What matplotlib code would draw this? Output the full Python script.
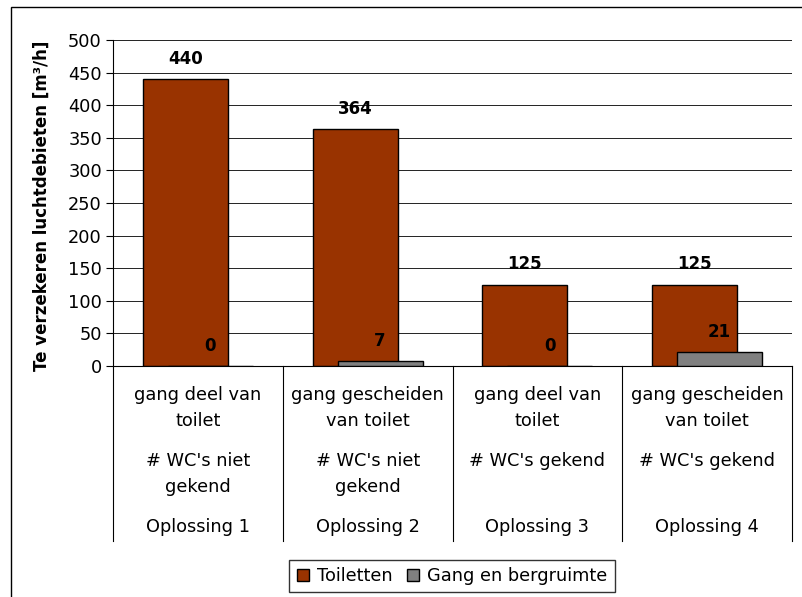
# Luchtdebieten per oplossing - gegroepeerde staafgrafiek
import numpy as np
import matplotlib
matplotlib.use('Agg')
import matplotlib.pyplot as plt
import matplotlib.transforms as mtransforms
from matplotlib.patches import Rectangle, Patch

oplossingen = ['Oplossing 1', 'Oplossing 2', 'Oplossing 3', 'Oplossing 4']
gang = ['gang deel van\ntoilet', 'gang gescheiden\nvan toilet',
        'gang deel van\ntoilet', 'gang gescheiden\nvan toilet']
wcs = ["# WC's niet\ngekend", "# WC's niet\ngekend", "# WC's gekend", "# WC's gekend"]
toiletten = [440, 364, 125, 125]
gang_berg = [0, 7, 0, 21]
series_namen = ['Toiletten', 'Gang en bergruimte']

W, H = 802, 597
fig = plt.figure(figsize=(W / 100, H / 100), dpi=100)
ax = fig.add_axes([113 / W, 1 - 366 / H, (792 - 113) / W, (366 - 40) / H])

x = np.arange(len(oplossingen))
bw = 0.5
off = 0.074
ax.bar(x - off, toiletten, bw, color='#993300', edgecolor='black', linewidth=1, zorder=2)
ax.bar(x + off, gang_berg, bw, color='#808080', edgecolor='black', linewidth=1, zorder=3)

for xi, v in zip(x - off, toiletten):
    ax.annotate(str(v), (xi, v), xytext=(0, 8), textcoords='offset points',
                ha='center', va='bottom', fontsize=12, fontweight='bold')
for xi, v in zip(x + off, gang_berg):
    ax.annotate(str(v), (xi, v), xytext=(0, 8), textcoords='offset points',
                ha='center', va='bottom', fontsize=12, fontweight='bold')

ax.set_xlim(-0.5, 3.5)
ax.set_ylim(0, 500)
ax.set_yticks(range(0, 501, 50))
ax.yaxis.grid(True, color='#222222', linewidth=0.7, zorder=0)
ax.set_axisbelow(True)
ax.tick_params(axis='y', labelsize=12.8, length=5, width=0.8, pad=3)
ax.set_xticks([])
for s in ['top', 'right']:
    ax.spines[s].set_visible(False)
ax.spines['left'].set_linewidth(0.8)
ax.spines['bottom'].set_linewidth(0.8)
ax.set_ylabel('Te verzekeren luchtdebieten [m³/h]', fontsize=12, fontweight='bold')
ax.yaxis.set_label_coords(-0.092, 0.49)

# categorie-as met meerdere niveaus
tr = mtransforms.blended_transform_factory(ax.transData, fig.transFigure)
y_bot = 1 - 541 / H
for b in np.arange(-0.5, 4.0, 1.0):
    ax.plot([b, b], [1 - 366 / H, y_bot], transform=tr, color='black',
            linewidth=0.8, clip_on=False)
for i in x:
    ax.text(i, 1 - 386 / H, gang[i], transform=tr, ha='center', va='top',
            fontsize=12.8, linespacing=1.6)
    ax.text(i, 1 - 452 / H, wcs[i], transform=tr, ha='center', va='top',
            fontsize=12.8, linespacing=1.6)
    ax.text(i, 1 - 527 / H, oplossingen[i], transform=tr, ha='center', va='center',
            fontsize=12.8)

handles = [Patch(facecolor='#993300', edgecolor='black'),
           Patch(facecolor='#808080', edgecolor='black')]
fig.legend(handles, series_namen, loc='upper center', bbox_to_anchor=(452 / W, 1 - 560 / H),
           ncol=2, fontsize=12.8, frameon=True, fancybox=False, edgecolor='black',
           handlelength=0.7, handleheight=0.7, handletextpad=0.45, columnspacing=0.8,
           borderpad=0.4, borderaxespad=0)

# rand van het grafiekgebied
fig.patches.append(Rectangle((11 / W, -0.1), 1.2, 1.1 - 7 / H, transform=fig.transFigure,
                             fill=False, edgecolor='black', linewidth=1))

fig.savefig('out.png', dpi=100)
